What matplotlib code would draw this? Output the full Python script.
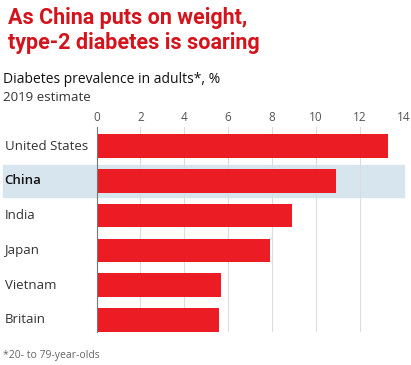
import matplotlib
matplotlib.use("Agg")
import matplotlib.pyplot as plt
from matplotlib.patches import Rectangle
from matplotlib.transforms import blended_transform_factory

countries = ["United States", "China", "India", "Japan", "Vietnam", "Britain"]
prevalence = [13.3, 10.9, 8.9, 7.9, 5.7, 5.6]
ticks = [0, 2, 4, 6, 8, 10, 12, 14]
highlight = "China"

plt.rcParams['font.family'] = ['Open Sans', 'DejaVu Sans']

fig = plt.figure(figsize=(4.11, 3.65), dpi=100)
ax = fig.add_axes([96.5 / 411, 1 - 332 / 365, 307 / 411, 205 / 365])

ypos = list(range(len(countries)))

# highlight band behind China, reaching out under the label
hi = countries.index(highlight)
trans = blended_transform_factory(ax.transAxes, ax.transData)
band = Rectangle(((3 - 96.5) / 307, hi - 0.47), 401 / 307, 0.94,
                 transform=trans, color='#d7e5ee', zorder=0, clip_on=False)
ax.add_patch(band)

ax.barh(ypos, prevalence, height=0.68, color='#ec1c24', zorder=3)

ax.set_xlim(0, 14)
ax.set_ylim(5.35, -0.55)
ax.set_xticks(ticks)
ax.set_xticklabels([str(t) for t in ticks])
ax.xaxis.tick_top()
ax.tick_params(axis='x', length=0, pad=2, labelsize=8.5, colors='#555555')
ax.grid(axis='x', color='#dcdcdc', linewidth=0.8, zorder=1)
ax.set_axisbelow(False)
ax.set_yticks([])
for s in ['top', 'right', 'bottom']:
    ax.spines[s].set_visible(False)
ax.spines['left'].set_color('#777777')
ax.spines['left'].set_linewidth(0.8)
ax.spines['left'].set_zorder(4)
ax.patch.set_alpha(0)

for y, name in zip(ypos, countries):
    bold = name == highlight
    ax.text(-92 / 21.93, y, name, ha='left', va='center', fontsize=9.5,
            color='#111111' if bold else '#333333',
            fontweight='semibold' if bold else 'normal', zorder=5)

fig.text(8 / 411, 1 - 24 / 365, "As China puts on weight,", color='#d3141c',
         fontsize=15.5, fontweight='bold', va='baseline', family=['Roboto'])
fig.text(8 / 411, 1 - 49 / 365, "type-2 diabetes is soaring", color='#d3141c',
         fontsize=15.5, fontweight='bold', va='baseline', family=['Roboto'])
fig.text(3 / 411, 1 - 83 / 365, "Diabetes prevalence in adults*, %",
         fontsize=10, color='#111111', va='baseline')
fig.text(3 / 411, 1 - 101 / 365, "2019 estimate",
         fontsize=9.5, color='#333333', va='baseline')
fig.text(3 / 411, 1 - 358 / 365, "*20- to 79-year-olds",
         fontsize=7.5, color='#666666', va='baseline')

fig.savefig("out.png", dpi=100)
